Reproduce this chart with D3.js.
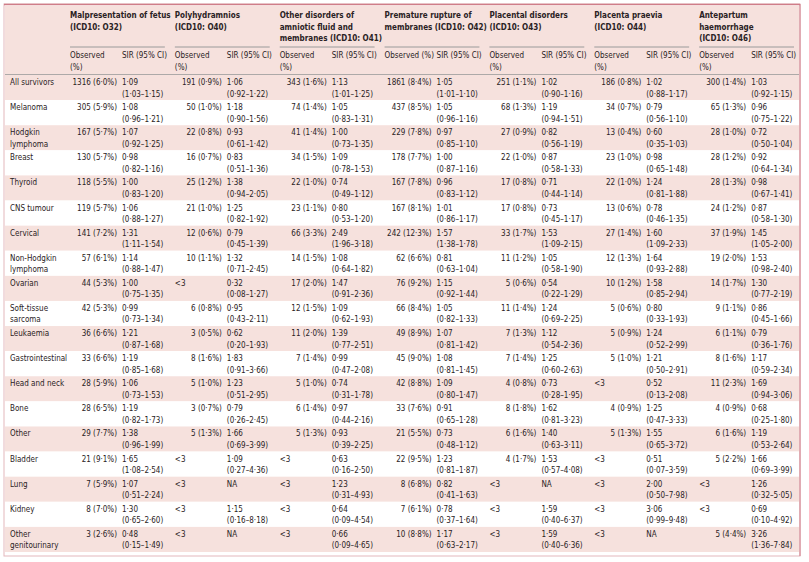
<!DOCTYPE html>
<html><head><meta charset="utf-8">
<script src="https://cdn.jsdelivr.net/npm/d3@7"></script>
<style>
body{margin:0;background:#fff}
text{font-family:"DejaVu Sans Condensed","Liberation Sans Narrow",sans-serif;fill:#2a2224}
</style></head><body>
<div id="table"></div>
<script>
// Row labels (may wrap onto two lines)
var rowLabels = ["All survivors","Melanoma","Hodgkin|lymphoma","Breast","Thyroid","CNS tumour","Cervical",
  "Non-Hodgkin|lymphoma","Ovarian","Soft-tissue|sarcoma","Leukaemia","Gastrointestinal","Head and neck",
  "Bone","Other","Bladder","Lung","Kidney","Other|genitourinary"];

var groupLabels = ["Malpresentation of fetus|(ICD10: O32)","Polyhydramnios|(ICD10: O40)",
  "Other disorders of|amniotic fluid and|membranes (ICD10: O41)","Premature rupture of|membranes (ICD10: O42)",
  "Placental disorders|(ICD10: O43)","Placenta praevia|(ICD10: O44)","Antepartum|haemorrhage|(ICD10: O46)"];

// each entry: observed | SIR | CI  (one string per row)
var malpresentation = ["1316 (6·0%)|1·09|1·03–1·15","305 (5·9%)|1·08|0·96–1·21","167 (5·7%)|1·07|0·92–1·25","130 (5·7%)|0·98|0·82–1·16","118 (5·5%)|1·00|0·83–1·20","119 (5·7%)|1·06|0·88–1·27","141 (7·2%)|1·31|1·11–1·54","57 (6·1%)|1·14|0·88–1·47","44 (5·3%)|1·00|0·75–1·35","42 (5·3%)|0·99|0·73–1·34","36 (6·6%)|1·21|0·87–1·68","33 (6·6%)|1·19|0·85–1·68","28 (5·9%)|1·06|0·73–1·53","28 (6·5%)|1·19|0·82–1·73","29 (7·7%)|1·38|0·96–1·99","21 (9·1%)|1·65|1·08–2·54","7 (5·9%)|1·07|0·51–2·24","8 (7·0%)|1·30|0·65–2·60","3 (2·6%)|0·48|0·15–1·49"];
var polyhydramnios = ["191 (0·9%)|1·06|0·92–1·22","50 (1·0%)|1·18|0·90–1·56","22 (0·8%)|0·93|0·61–1·42","16 (0·7%)|0·83|0·51–1·36","25 (1·2%)|1·38|0·94–2·05","21 (1·0%)|1·25|0·82–1·92","12 (0·6%)|0·79|0·45–1·39","10 (1·1%)|1·32|0·71–2·45","<3|0·32|0·08–1·27","6 (0·8%)|0·95|0·43–2·11","3 (0·5%)|0·62|0·20–1·93","8 (1·6%)|1·83|0·91–3·66","5 (1·0%)|1·23|0·51–2·95","3 (0·7%)|0·79|0·26–2·45","5 (1·3%)|1·66|0·69–3·99","<3|1·09|0·27–4·36","<3|NA|","<3|1·15|0·16–8·18","<3|NA|"];
var otherAmniotic = ["343 (1·6%)|1·13|1·01–1·25","74 (1·4%)|1·05|0·83–1·31","41 (1·4%)|1·00|0·73–1·35","34 (1·5%)|1·09|0·78–1·53","22 (1·0%)|0·74|0·49–1·12","23 (1·1%)|0·80|0·53–1·20","66 (3·3%)|2·49|1·96–3·18","14 (1·5%)|1·08|0·64–1·82","17 (2·0%)|1·47|0·91–2·36","12 (1·5%)|1·09|0·62–1·93","11 (2·0%)|1·39|0·77–2·51","7 (1·4%)|0·99|0·47–2·08","5 (1·0%)|0·74|0·31–1·78","6 (1·4%)|0·97|0·44–2·16","5 (1·3%)|0·93|0·39–2·25","<3|0·63|0·16–2·50","<3|1·23|0·31–4·93","<3|0·64|0·09–4·54","<3|0·66|0·09–4·65"];
var prematureRupture = ["1861 (8·4%)|1·05|1·01–1·10","437 (8·5%)|1·05|0·96–1·16","229 (7·8%)|0·97|0·85–1·10","178 (7·7%)|1·00|0·87–1·16","167 (7·8%)|0·96|0·83–1·12","167 (8·1%)|1·01|0·86–1·17","242 (12·3%)|1·57|1·38–1·78","62 (6·6%)|0·81|0·63–1·04","76 (9·2%)|1·15|0·92–1·44","66 (8·4%)|1·05|0·82–1·33","49 (8·9%)|1·07|0·81–1·42","45 (9·0%)|1·08|0·81–1·45","42 (8·8%)|1·09|0·80–1·47","33 (7·6%)|0·91|0·65–1·28","21 (5·5%)|0·73|0·48–1·12","22 (9·5%)|1·23|0·81–1·87","8 (6·8%)|0·82|0·41–1·63","7 (6·1%)|0·78|0·37–1·64","10 (8·8%)|1·17|0·63–2·17"];
var placental = ["251 (1·1%)|1·02|0·90–1·16","68 (1·3%)|1·19|0·94–1·51","27 (0·9%)|0·82|0·56–1·19","22 (1·0%)|0·87|0·58–1·33","17 (0·8%)|0·71|0·44–1·14","17 (0·8%)|0·73|0·45–1·17","33 (1·7%)|1·53|1·09–2·15","11 (1·2%)|1·05|0·58–1·90","5 (0·6%)|0·54|0·22–1·29","11 (1·4%)|1·24|0·69–2·25","7 (1·3%)|1·12|0·54–2·36","7 (1·4%)|1·25|0·60–2·63","4 (0·8%)|0·73|0·28–1·95","8 (1·8%)|1·62|0·81–3·23","6 (1·6%)|1·40|0·63–3·11","4 (1·7%)|1·53|0·57–4·08","<3|NA|","<3|1·59|0·40–6·37","<3|1·59|0·40–6·36"];
var praevia = ["186 (0·8%)|1·02|0·88–1·17","34 (0·7%)|0·79|0·56–1·10","13 (0·4%)|0·60|0·35–1·03","23 (1·0%)|0·98|0·65–1·48","22 (1·0%)|1·24|0·81–1·88","13 (0·6%)|0·78|0·46–1·35","27 (1·4%)|1·60|1·09–2·33","12 (1·3%)|1·64|0·93–2·88","10 (1·2%)|1·58|0·85–2·94","5 (0·6%)|0·80|0·33–1·93","5 (0·9%)|1·24|0·52–2·99","5 (1·0%)|1·21|0·50–2·91","<3|0·52|0·13–2·08","4 (0·9%)|1·25|0·47–3·33","5 (1·3%)|1·55|0·65–3·72","<3|0·51|0·07–3·59","<3|2·00|0·50–7·98","<3|3·06|0·99–9·48","<3|NA|"];
var antepartum = ["300 (1·4%)|1·03|0·92–1·15","65 (1·3%)|0·96|0·75–1·22","28 (1·0%)|0·72|0·50–1·04","28 (1·2%)|0·92|0·64–1·34","28 (1·3%)|0·98|0·67–1·41","24 (1·2%)|0·87|0·58–1·30","37 (1·9%)|1·45|1·05–2·00","19 (2·0%)|1·53|0·98–2·40","14 (1·7%)|1·30|0·77–2·19","9 (1·1%)|0·86|0·45–1·66","6 (1·1%)|0·79|0·36–1·76","8 (1·6%)|1·17|0·59–2·34","11 (2·3%)|1·69|0·94–3·06","4 (0·9%)|0·68|0·25–1·80","6 (1·6%)|1·19|0·53–2·64","5 (2·2%)|1·66|0·69–3·99","<3|1·26|0·32–5·05","<3|0·69|0·10–4·92","5 (4·4%)|3·26|1·36–7·84"];
var groups = [malpresentation, polyhydramnios, otherAmniotic, prematureRupture, placental, praevia, antepartum];

var W = 809, H = 562;
var svg = d3.select("#table").append("svg").attr("width", W).attr("height", H);
var pink = "#f6e1dd", fs = 8, lh = 11.5;

var gx = d3.scaleBand().domain(d3.range(7)).range([66, 800]);
var y = d3.scaleBand().domain(d3.range(rowLabels.length)).range([75, 552]);

// outer frame
svg.append("rect").attr("x", 4).attr("y", 4).attr("width", 796).attr("height", 552)
  .attr("fill", "none").attr("stroke", "#e3b7bc").attr("stroke-width", 1);
svg.append("line").attr("x1", 4).attr("x2", 800).attr("y1", 4.5).attr("y2", 4.5)
  .attr("stroke", "#cf7d89").attr("stroke-width", 1.5);
svg.append("line").attr("x1", 800).attr("x2", 800).attr("y1", 4).attr("y2", 556)
  .attr("stroke", "#cf7d89").attr("stroke-width", 1);

// header band
svg.append("rect").attr("x", 5).attr("y", 5.5).attr("width", 794).attr("height", 69.5).attr("fill", pink);

// row bands
svg.selectAll("rect.band").data(rowLabels).enter().append("rect")
  .attr("x", 5).attr("width", 794)
  .attr("y", (d, i) => y(i)).attr("height", y.bandwidth())
  .attr("fill", (d, i) => i % 2 === 0 ? pink : "#fff");

function multi(sel, str, x, y0, anchor, weight) {
  var t = sel.append("text").attr("x", x).attr("y", y0).attr("font-size", fs)
    .attr("text-anchor", anchor || "start").attr("font-weight", weight || "normal");
  str.split("|").forEach((s, k) => t.append("tspan").attr("x", x).attr("dy", k ? lh : 0).text(s));
}

// group headers
groupLabels.forEach(function(g, j) {
  var x0 = gx(j) + 4;
  multi(svg, g, x0, 18, "start", "bold");
  svg.append("line").attr("x1", x0).attr("x2", gx(j) + gx.bandwidth() - 6)
    .attr("y1", 47).attr("y2", 47).attr("stroke", "#9a9a9a").attr("stroke-width", 1);
  if (j === 3) svg.append("text").attr("x", x0).attr("y", 58).attr("font-size", fs).text("Observed (%)");
  else multi(svg, "Observed|(%)", x0, 58);
  svg.append("text").attr("x", x0 + 52).attr("y", 58).attr("font-size", fs).text("SIR (95% CI)");
});
svg.append("line").attr("x1", 5).attr("x2", 799).attr("y1", 74.5).attr("y2", 74.5)
  .attr("stroke", "#9a9a9a").attr("stroke-width", 0.8);

// row labels
rowLabels.forEach((r, i) => multi(svg, r, 10, y(i) + 10));

// cells
groups.forEach(function(col, j) {
  var x0 = gx(j) + 4;
  col.forEach(function(cell, i) {
    var p = cell.split("|"), ty = y(i) + 10;
    if (p[0] === "<3") svg.append("text").attr("x", x0).attr("y", ty).attr("font-size", fs).text("<3");
    else svg.append("text").attr("x", x0 + 47).attr("y", ty).attr("font-size", fs)
      .attr("text-anchor", "end").text(p[0]);
    multi(svg, p[2] ? p[1] + "|(" + p[2] + ")" : p[1], x0 + 52, ty);
  });
});
</script></body></html>
